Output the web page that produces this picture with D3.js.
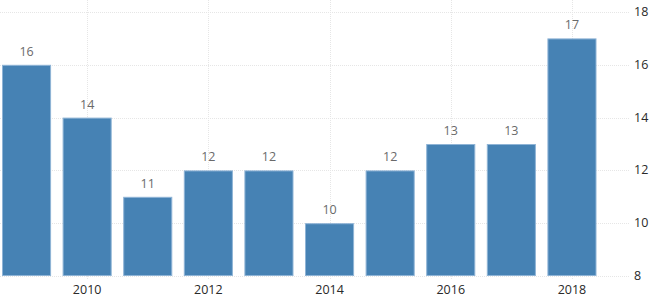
<!DOCTYPE html>
<html>
<head>
<meta charset="utf-8">
<script src="https://d3js.org/d3.v7.min.js"></script>
<style>
body { margin: 0; overflow: hidden; background: #fff; }
text { font-family: "Open Sans", sans-serif; }
.grid line { stroke: #e6e6e6; stroke-dasharray: 1,1; }
.value { font-size: 12.5px; fill: #6a6a6a; }
.xlab { font-size: 12.5px; fill: #2a2a2a; }
.ylab { font-size: 12.5px; fill: #2a2a2a; }
</style>
</head>
<body>
<svg width="650" height="304"></svg>
<script>
const years = [2009, 2010, 2011, 2012, 2013, 2014, 2015, 2016, 2017, 2018];
const values = [16, 14, 11, 12, 12, 10, 12, 13, 13, 17];
const yTicks = [8, 10, 12, 14, 16, 18];
const xTicks = [2010, 2012, 2014, 2016, 2018];

const svg = d3.select('svg');

const x = d3.scaleBand()
  .domain(years)
  .range([2, 596.5])
  .paddingInner(0.19)
  .paddingOuter(0);

const y = d3.scaleLinear()
  .domain([8, 18])
  .range([276, 12]);

// horizontal grid
const grid = svg.append('g').attr('class', 'grid');
grid.selectAll('.h').data(yTicks)
  .enter().append('line')
    .attr('x1', 0)
    .attr('x2', 630)
    .attr('y1', d => Math.round(y(d)) + 0.5)
    .attr('y2', d => Math.round(y(d)) + 0.5);

// vertical grid at labelled years
grid.selectAll('.v').data(xTicks)
  .enter().append('line')
    .attr('x1', d => Math.round(x(d) + x.bandwidth() / 2) + 0.5)
    .attr('x2', d => Math.round(x(d) + x.bandwidth() / 2) + 0.5)
    .attr('y1', 0)
    .attr('y2', 280);

// bars
svg.selectAll('rect').data(values)
  .enter().append('rect')
    .attr('x', (d, i) => x(years[i]) + 0.5)
    .attr('width', x.bandwidth() - 1)
    .attr('y', d => y(d) + 0.5)
    .attr('height', d => y(8) - y(d) - 1)
    .attr('fill', '#4682b4')
    .attr('stroke', '#8fb4d6')
    .attr('stroke-width', 1);

// value labels
svg.selectAll('.value').data(values)
  .enter().append('text')
    .attr('class', 'value')
    .attr('x', (d, i) => x(years[i]) + x.bandwidth() / 2)
    .attr('y', d => y(d) - 9)
    .attr('text-anchor', 'middle')
    .text(d => d);

// x axis labels
svg.selectAll('.xlab').data(xTicks)
  .enter().append('text')
    .attr('class', 'xlab')
    .attr('x', d => x(d) + x.bandwidth() / 2)
    .attr('y', 294)
    .attr('text-anchor', 'middle')
    .text(d => d);

// y axis labels (right)
svg.selectAll('.ylab').data(yTicks)
  .enter().append('text')
    .attr('class', 'ylab')
    .attr('x', 634)
    .attr('y', d => y(d) + 4)
    .text(d => d);
</script>
</body>
</html>
